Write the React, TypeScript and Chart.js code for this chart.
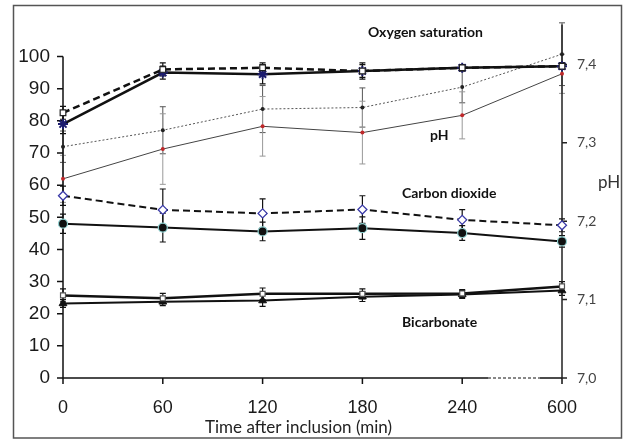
import { useEffect, useRef } from 'react';
import { Chart, registerables } from 'chart.js';

Chart.register(...registerables);

const timeLabels = ['0', '60', '120', '180', '240', '600'];

const oxySatDashed = [82.5, 96, 96.5, 95.5, 96.5, 97];
const oxySatDashedErr = [2, 2, 1.5, 2, 1, 1];
const oxySatSolid = [79, 95, 94.5, 95.5, 96.5, 97];
const oxySatSolidErr = [3, 2, 3, 2.5, 1, 1];

const phDotted = [7.295, 7.316, 7.343, 7.345, 7.371, 7.413];
const phDottedErr = [0.02, 0.03, 0.03, 0.025, 0.02, 0.04];
const phSolid = [7.254, 7.292, 7.321, 7.313, 7.335, 7.388];
const phSolidErr = [0.03, 0.045, 0.038, 0.04, 0.03, 0.025];

const co2Dashed = [56.7, 52.3, 51.2, 52.4, 49.2, 47.5];
const co2DashedErr = [3, 6.5, 4.5, 4.3, 3.2, 2];
const co2Solid = [48, 46.8, 45.6, 46.6, 45.1, 42.5];
const co2SolidErr = [3, 4.5, 2.9, 3.5, 2.3, 1.8];

const bicarbSquares = [25.7, 24.8, 26.2, 26.2, 26.3, 28.5];
const bicarbSquaresErr = [2, 1.5, 1.8, 1.5, 1.2, 1.5];
const bicarbTriangles = [23.2, 23.7, 24.1, 25.3, 26.0, 27.2];
const bicarbTrianglesErr = [1.2, 1.2, 1.8, 1.5, 1.2, 1.5];

const leftTickMax = 100;
const phTicks = [7.0, 7.1, 7.2, 7.3, 7.4];

const errorBarPlugin = {
  id: 'errorBars',
  beforeDatasetsDraw(chart: any) {
    const ctx = chart.ctx;
    chart.data.datasets.forEach((ds: any, i: number) => {
      const err = ds.errors;
      if (!err) return;
      const meta = chart.getDatasetMeta(i);
      const ys = chart.scales[ds.yAxisID];
      ctx.save();
      ctx.strokeStyle = ds.errColor || '#111';
      ctx.lineWidth = ds.errWidth || 1.2;
      meta.data.forEach((pt: any, j: number) => {
        const v = ds.data[j];
        const e = err[j];
        const y1 = ys.getPixelForValue(v + e);
        const y2 = ys.getPixelForValue(v - e);
        const x = pt.x;
        ctx.beginPath();
        ctx.moveTo(x, y1);
        ctx.lineTo(x, y2);
        ctx.moveTo(x - 3, y1);
        ctx.lineTo(x + 3, y1);
        ctx.moveTo(x - 3, y2);
        ctx.lineTo(x + 3, y2);
        ctx.stroke();
      });
      ctx.restore();
    });
  },
};

const axesPlugin = {
  id: 'axesDraw',
  beforeDatasetsDraw(chart: any) {
    const ctx = chart.ctx;
    const { left, right, top, bottom } = chart.chartArea;
    const ys = chart.scales.y;
    const y2 = chart.scales.y2;
    const xs = chart.scales.x;
    ctx.save();
    // outer frame
    ctx.strokeStyle = '#555';
    ctx.lineWidth = 1.5;
    ctx.strokeRect(13.5, 5.5, 608, 432.5);
    // left axis
    ctx.strokeStyle = '#111';
    ctx.lineWidth = 1.5;
    ctx.beginPath();
    ctx.moveTo(left, ys.getPixelForValue(leftTickMax));
    ctx.lineTo(left, bottom);
    for (let v = 0; v <= leftTickMax; v += 10) {
      const py = ys.getPixelForValue(v);
      ctx.moveTo(left - 6, py);
      ctx.lineTo(left, py);
    }
    ctx.stroke();
    // bottom axis with break
    const xBreak1 = 488;
    const xBreak2 = 540;
    ctx.beginPath();
    ctx.moveTo(left, bottom);
    ctx.lineTo(xBreak1, bottom);
    ctx.moveTo(xBreak2, bottom);
    ctx.lineTo(right, bottom);
    timeLabels.forEach((_, i) => {
      const px = xs.getPixelForValue(i);
      ctx.moveTo(px, bottom);
      ctx.lineTo(px, bottom + 6);
    });
    ctx.stroke();
    ctx.setLineDash([3, 2]);
    ctx.lineWidth = 1;
    ctx.beginPath();
    ctx.moveTo(xBreak1, bottom);
    ctx.lineTo(xBreak2, bottom);
    ctx.stroke();
    ctx.setLineDash([]);
    // right axis
    ctx.strokeStyle = '#222';
    ctx.lineWidth = 1.5;
    ctx.beginPath();
    ctx.moveTo(right, top);
    ctx.lineTo(right, bottom);
    phTicks.forEach((v) => {
      const py = y2.getPixelForValue(v);
      ctx.moveTo(right, py);
      ctx.lineTo(right + 5, py);
    });
    ctx.stroke();
    ctx.restore();
  },
  afterDraw(chart: any) {
    const ctx = chart.ctx;
    ctx.save();
    ctx.fillStyle = '#111';
    ctx.textAlign = 'left';
    ctx.textBaseline = 'alphabetic';
    ctx.font = 'bold 14px Lato';
    ctx.fillText('Oxygen saturation', 368, 37);
    ctx.fillText('pH', 430, 140);
    ctx.fillText('Carbon dioxide', 402, 198);
    ctx.fillText('Bicarbonate', 402, 327);
    ctx.font = '17px Lato';
    ctx.fillStyle = '#222';
    ctx.fillText('Time after inclusion (min)', 205, 433);
    ctx.fillStyle = '#333';
    ctx.fillText('pH', 598, 188);
    ctx.restore();
  },
};

export default function App() {
  const ref = useRef<HTMLCanvasElement | null>(null);

  useEffect(() => {
    document.body.style.margin = '0';
    const canvas = ref.current;
    if (!canvas) return;
    const chart = new Chart(canvas, {
      type: 'line',
      data: {
        labels: timeLabels,
        datasets: [
          {
            label: 'Oxygen saturation (dashed)',
            data: oxySatDashed,
            errors: oxySatDashedErr,
            yAxisID: 'y',
            borderColor: '#111',
            borderWidth: 2.5,
            borderDash: [7, 4],
            pointStyle: 'rect',
            pointRadius: 4,
            pointBackgroundColor: '#fff',
            pointBorderColor: '#222',
            pointBorderWidth: 1.2,
            clip: false,
          },
          {
            label: 'Oxygen saturation (solid)',
            data: oxySatSolid,
            errors: oxySatSolidErr,
            yAxisID: 'y',
            borderColor: '#111',
            borderWidth: 2.5,
            pointStyle: 'star',
            pointRadius: 5,
            pointBackgroundColor: '#1c1c6e',
            pointBorderColor: '#1c1c6e',
            pointBorderWidth: 2,
            clip: false,
          },
          {
            label: 'pH (dotted)',
            data: phDotted,
            errors: phDottedErr,
            errColor: '#555',
            errWidth: 1,
            yAxisID: 'y2',
            borderColor: '#555',
            borderWidth: 1,
            borderDash: [2, 2],
            pointStyle: 'circle',
            pointRadius: 2,
            pointBackgroundColor: '#222',
            pointBorderColor: '#222',
            pointBorderWidth: 0,
            clip: false,
          },
          {
            label: 'pH (solid)',
            data: phSolid,
            errors: phSolidErr,
            errColor: '#999',
            errWidth: 1,
            yAxisID: 'y2',
            borderColor: '#444',
            borderWidth: 1,
            pointStyle: 'circle',
            pointRadius: 2,
            pointBackgroundColor: '#c0282a',
            pointBorderColor: '#c0282a',
            pointBorderWidth: 0,
            clip: false,
          },
          {
            label: 'Carbon dioxide (dashed)',
            data: co2Dashed,
            errors: co2DashedErr,
            yAxisID: 'y',
            borderColor: '#111',
            borderWidth: 2,
            borderDash: [7, 4],
            pointStyle: 'rectRot',
            pointRadius: 4.5,
            pointBackgroundColor: '#fff',
            pointBorderColor: '#3a3aa8',
            pointBorderWidth: 1.3,
            clip: false,
          },
          {
            label: 'Carbon dioxide (solid)',
            data: co2Solid,
            errors: co2SolidErr,
            yAxisID: 'y',
            borderColor: '#111',
            borderWidth: 2,
            pointStyle: 'circle',
            pointRadius: 4.5,
            pointBackgroundColor: '#111',
            pointBorderColor: '#8fd0d0',
            pointBorderWidth: 1.2,
            clip: false,
          },
          {
            label: 'Bicarbonate (squares)',
            data: bicarbSquares,
            errors: bicarbSquaresErr,
            yAxisID: 'y',
            borderColor: '#111',
            borderWidth: 2.5,
            pointStyle: 'rect',
            pointRadius: 3.5,
            pointBackgroundColor: '#fff',
            pointBorderColor: '#555',
            pointBorderWidth: 1.2,
            clip: false,
          },
          {
            label: 'Bicarbonate (triangles)',
            data: bicarbTriangles,
            errors: bicarbTrianglesErr,
            yAxisID: 'y',
            borderColor: '#111',
            borderWidth: 2,
            pointStyle: 'triangle',
            pointRadius: 4.5,
            pointBackgroundColor: '#111',
            pointBorderColor: '#111',
            pointBorderWidth: 1,
            clip: false,
          },
        ] as any,
      },
      options: {
        responsive: false,
        animation: false,
        devicePixelRatio: 1,
        layout: { autoPadding: false, padding: { top: 8, left: 0, right: 0, bottom: 0 } } as any,
        plugins: {
          legend: { display: false },
          tooltip: { enabled: false },
        },
        scales: {
          x: {
            type: 'category',
            offset: false,
            grid: { display: false, drawTicks: false },
            border: { display: false },
            ticks: {
              font: { family: 'Liberation Sans', size: 18 },
              color: '#1a1a1a',
              padding: 19,
              maxRotation: 0,
              autoSkip: false,
            },
            afterFit: (s: any) => {
              s.height = 62;
            },
          },
          y: {
            type: 'linear',
            position: 'left',
            min: 0,
            max: 110,
            grid: { display: false, drawTicks: false },
            border: { display: false },
            ticks: {
              stepSize: 10,
              font: { family: 'Liberation Sans', size: 19 },
              color: '#1a1a1a',
              padding: 13,
              callback: (v: any) => (Number(v) <= leftTickMax ? String(v) : null),
            },
            afterFit: (s: any) => {
              s.width = 63;
            },
          },
          y2: {
            type: 'linear',
            position: 'right',
            min: 7.0,
            max: 7.451,
            grid: { display: false, drawTicks: false },
            border: { display: false },
            ticks: {
              stepSize: 0.1,
              font: { family: 'Lato', size: 14 },
              color: '#444',
              padding: 15,
              callback: (v: any) =>
                Number(v) <= 7.4001 ? Number(v).toFixed(1).replace('.', ',') : null,
            },
            afterFit: (s: any) => {
              s.width = 66;
            },
          },
        },
      } as any,
      plugins: [errorBarPlugin, axesPlugin],
    });
    return () => chart.destroy();
  }, []);

  return (
    <div style={{ width: 628, height: 440, background: '#fff' }}>
      <canvas ref={ref} width={628} height={440} style={{ display: 'block' }} />
    </div>
  );
}
